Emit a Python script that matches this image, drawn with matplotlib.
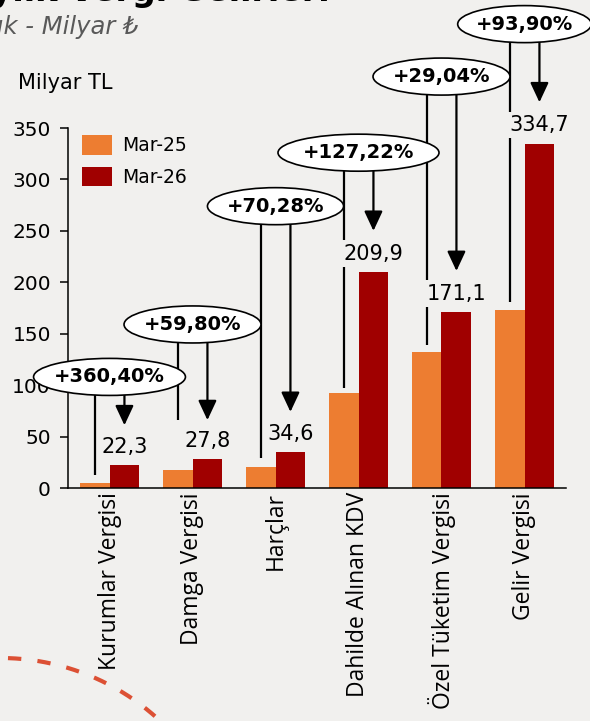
import matplotlib
matplotlib.use("Agg")
import numpy as np
import matplotlib.pyplot as plt
from matplotlib.patches import Ellipse

# data
categories = ['Kurumlar Vergisi', 'Damga Vergisi', 'Harçlar',
              'Dahilde Alınan KDV', 'Özel Tüketim Vergisi', 'Gelir Vergisi']
mar25 = [4.8, 17.4, 20.3, 92.4, 132.6, 172.6]
mar26 = [22.3, 27.8, 34.6, 209.9, 171.1, 334.7]
changes = ['+360,40%', '+59,80%', '+70,28%', '+127,22%', '+29,04%', '+93,90%']
series_names = ['Mar-25', 'Mar-26']
yticks = [0, 50, 100, 150, 200, 250, 300, 350]

# layout of the callout bubbles (data units)
bubble_y = [108, 159, 274, 326, 400, 451]
bubble_w = [1.83, 1.65, 1.64, 1.94, 1.65, 1.61]
bubble_h = 36
line_end = [12.6, 66, 29, 97, 139, 181]
arrow_tip = [61, 66, 74, 250, 211, 375]

bg = '#f1f0ee'
c25 = '#ed7d31'
c26 = '#a00000'

plt.rcParams['font.family'] = ['DejaVu Sans', 'Noto Sans']

fig = plt.figure(figsize=(5.9, 7.21), dpi=100)
fig.patch.set_facecolor(bg)

# decorative dashed arc, figure pixel coords
deco = fig.add_axes([0, 0, 1, 1], zorder=0)
deco.set_xlim(0, 590)
deco.set_ylim(721, 0)
deco.axis('off')
t = np.linspace(0.032, 0.83, 200)
deco.plot(0.5 + 234 * np.sin(t), 892 - 234 * np.cos(t), color='#dc5034',
          lw=3, linestyle=(0, (3.2, 3.9)), solid_capstyle='butt')

ax = fig.add_axes([68 / 590, 1 - 488 / 721, 498 / 590, 360 / 721], zorder=1)
ax.set_facecolor('none')

x = list(range(len(categories)))
w = 0.36
ax.bar([i - w / 2 for i in x], mar25, w, color=c25, label=series_names[0], zorder=2)
ax.bar([i + w / 2 for i in x], mar26, w, color=c26, label=series_names[1], zorder=2)

ax.set_xlim(-0.5, 5.5)
ax.set_ylim(0, 350)
ax.set_yticks(yticks)
ax.set_xticks(x)
ax.set_xticklabels(categories, rotation=90, fontsize=16.5, family='Open Sans', va='top')
ax.tick_params(axis='x', length=0, pad=3)
ax.tick_params(axis='y', length=5.8, width=1.1, pad=6.5, labelsize=14.5)
for s in ['top', 'right']:
    ax.spines[s].set_visible(False)
for s in ['left', 'bottom']:
    ax.spines[s].set_linewidth(1.1)

# value labels over Mar-26 bars
for i, v in enumerate(mar26):
    ax.annotate(f'{v:.1f}'.replace('.', ','), (i + w / 2, v), xytext=(0, 9),
                textcoords='offset points', ha='center', va='baseline', fontsize=15,
                bbox=dict(boxstyle='square,pad=0.15', fc=bg, ec='none'), zorder=6)

# callouts
for i in x:
    ax.plot([i - w / 2, i - w / 2], [bubble_y[i], line_end[i]], color='black',
            lw=1.6, clip_on=False, zorder=4, solid_capstyle='butt')
    ax.annotate('', xy=(i + w / 2, arrow_tip[i]), xytext=(i + w / 2, bubble_y[i]),
                arrowprops=dict(arrowstyle='-|>,head_length=0.6,head_width=0.28',
                                color='black', lw=1.6, mutation_scale=20,
                                shrinkA=0, shrinkB=0), zorder=4, annotation_clip=False)
    ax.add_patch(Ellipse((i, bubble_y[i]), bubble_w[i], bubble_h, facecolor='white',
                         edgecolor='black', lw=1.2, clip_on=False, zorder=7))
    ax.text(i, bubble_y[i], changes[i], ha='center', va='center', fontsize=14,
            fontweight='bold', zorder=8, clip_on=False)

ax.legend(loc='upper left', bbox_to_anchor=(0.028, 0.98), frameon=False,
          borderaxespad=0, borderpad=0, handlelength=1.6, handleheight=1.23,
          handletextpad=0.55, labelspacing=0.6, fontsize=13.5)

fig.text(18 / 590, 1 - 83 / 721, 'Milyar TL', fontsize=15, va='center', ha='left')
fig.text(139 / 590, 1 - 27 / 721, 'Aylık - Milyar ₺', fontsize=17.5, style='italic',
         color='#595959', ha='right', va='center')
fig.text(330 / 590, 1 - 0.5 / 721, 'Aylık Vergi Gelirleri', fontsize=24,
         fontweight='bold', ha='right', va='baseline')

fig.savefig('out.png', dpi=100, facecolor=bg)
